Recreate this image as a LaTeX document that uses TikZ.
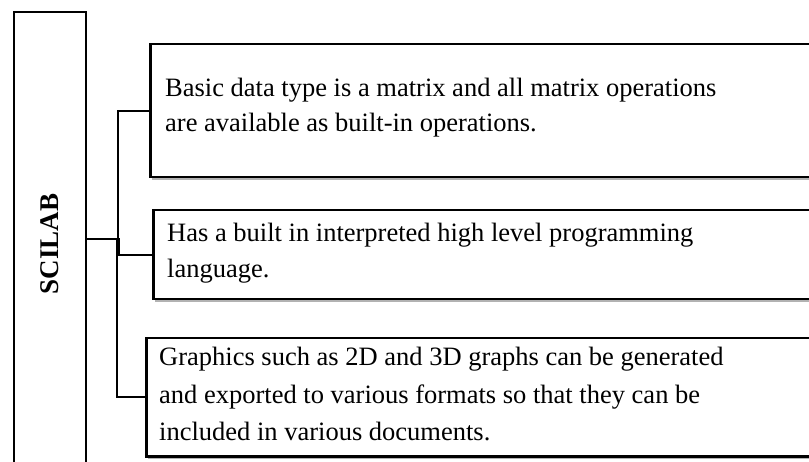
\documentclass[tikz,border=0pt]{standalone}
\usepackage{fontspec}
\setmainfont{Liberation Serif}
\usetikzlibrary{shadows}
\tikzset{
  box/.style={draw=black, line width=2.5pt, fill=white, inner sep=0pt, anchor=north west,
    drop shadow={shadow xshift=1.5pt, shadow yshift=-3pt, fill=black, opacity=0.3}},
  sbox/.style={draw=black, line width=2.5pt, fill=white, inner sep=0pt},
  conn/.style={draw=black, line width=2pt},
  txt/.style={anchor=base west, inner sep=0pt, font=\fontsize{26.5}{32}\selectfont},
  stxt/.style={inner sep=0pt, rotate=90, font=\fontsize{27}{32}\selectfont\bfseries}
}
\begin{document}
\begin{tikzpicture}[x=1pt,y=-1pt]
\useasboundingbox (0,0) rectangle (809,462);
\clip (0,0) rectangle (809,462);
\fill[white] (0,0) rectangle (809,462);
% SCILAB box
\node[sbox, minimum width=72pt, minimum height=454pt] (s) at (50,239) {};
\node[stxt] (stext) at (50,244) {SCILAB};
% right boxes
\node[box, minimum width=681pt, minimum height=133pt] (b1) at (149,43) {};
\node[box, minimum width=678pt, minimum height=89pt] (b2) at (152,209) {};
\node[box, minimum width=685pt, minimum height=118pt] (b3) at (145,337) {};
% texts
\node[txt] (t1a) at (165,97) {Basic data type is a matrix and all matrix operations};
\node[txt] (t1b) at (165,132) {are available as built-in operations.};
\node[txt] (t2a) at (167,242) {Has a built in interpreted high level programming};
\node[txt] (t2b) at (167,278) {language.};
\node[txt] (t3a) at (159,366) {Graphics such as 2D and 3D graphs can be generated};
\node[txt] (t3b) at (159,403) {and exported to various formats so that they can be};
\node[txt] (t3c) at (159,440) {included in various documents.};
% connectors
\draw[conn] (s.east) -- ++(31,0) |- (b1.west);
\draw[conn] (s.east) -- ++(32,0) |- (b2.west);
\draw[conn] (s.east) -- ++(30,0) |- (b3.west);
\end{tikzpicture}
\end{document}
